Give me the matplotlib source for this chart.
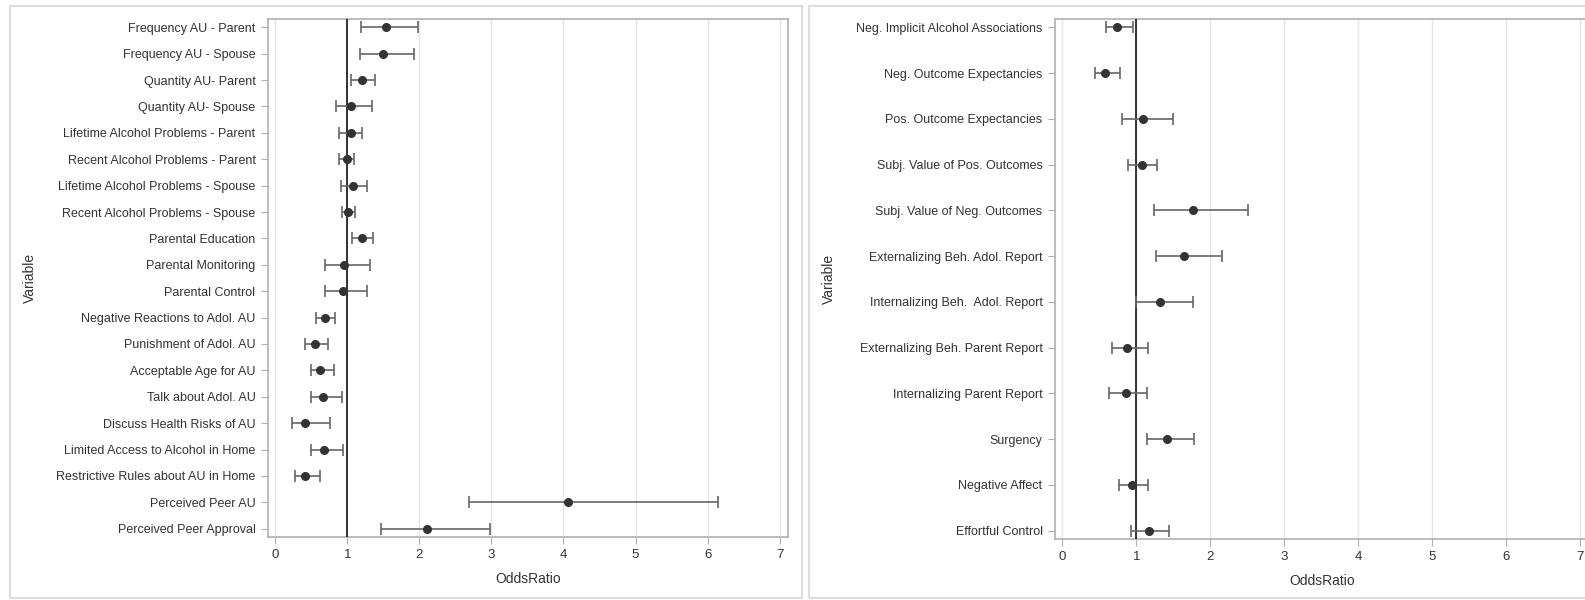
import matplotlib.pyplot as plt
from matplotlib.patches import Rectangle

# left panel: family / parenting / peer variables
left_vars = ['Frequency AU - Parent', 'Frequency AU - Spouse', 'Quantity AU- Parent',
             'Quantity AU- Spouse', 'Lifetime Alcohol Problems - Parent',
             'Recent Alcohol Problems - Parent', 'Lifetime Alcohol Problems - Spouse',
             'Recent Alcohol Problems - Spouse', 'Parental Education', 'Parental Monitoring',
             'Parental Control', 'Negative Reactions to Adol. AU', 'Punishment of Adol. AU',
             'Acceptable Age for AU', 'Talk about Adol. AU', 'Discuss Health Risks of AU',
             'Limited Access to Alcohol in Home', 'Restrictive Rules about AU in Home',
             'Perceived Peer AU', 'Perceived Peer Approval']
left_or = [1.54, 1.49, 1.20, 1.05, 1.05, 1.00, 1.08, 1.01, 1.20, 0.96,
           0.94, 0.69, 0.55, 0.62, 0.67, 0.42, 0.68, 0.42, 4.06, 2.10]
left_lo = [1.19, 1.17, 1.05, 0.84, 0.89, 0.89, 0.91, 0.92, 1.06, 0.69,
           0.69, 0.57, 0.41, 0.50, 0.50, 0.23, 0.50, 0.27, 2.69, 1.47]
left_hi = [1.98, 1.92, 1.39, 1.35, 1.21, 1.10, 1.28, 1.11, 1.36, 1.32,
           1.28, 0.83, 0.73, 0.82, 0.92, 0.76, 0.94, 0.62, 6.14, 2.98]

# right panel: individual variables
right_vars = ['Neg. Implicit Alcohol Associations', 'Neg. Outcome Expectancies',
              'Pos. Outcome Expectancies', 'Subj. Value of Pos. Outcomes',
              'Subj. Value of Neg. Outcomes', 'Externalizing Beh. Adol. Report',
              'Internalizing Beh.  Adol. Report', 'Externalizing Beh. Parent Report',
              'Internalizing Parent Report', 'Surgency', 'Negative Affect', 'Effortful Control']
right_or = [0.74, 0.58, 1.09, 1.07, 1.76, 1.65, 1.32, 0.87, 0.86, 1.42, 0.94, 1.17]
right_lo = [0.59, 0.44, 0.80, 0.89, 1.24, 1.27, 1.00, 0.67, 0.63, 1.15, 0.76, 0.93]
right_hi = [0.95, 0.78, 1.49, 1.28, 2.51, 2.16, 1.76, 1.16, 1.15, 1.78, 1.16, 1.44]

xticks = [0, 1, 2, 3, 4, 5, 6, 7]

plt.rcParams['font.family'] = ['Liberation Sans', 'DejaVu Sans']

fig = plt.figure(figsize=(15.85, 6.0), dpi=100)

# panel frames
W, H = 1585, 600
for x0, x1 in [(10, 802), (809, 1600)]:
    fig.patches.append(Rectangle((x0 / W, 1 - 598 / H), (x1 - x0) / W, (598 - 6) / H,
                                 transform=fig.transFigure, fill=False,
                                 edgecolor='#dddddd', linewidth=1.5))

ax1 = fig.add_axes([268 / W, 1 - 536.7 / H, (788.3 - 268) / W, (536.7 - 19.3) / H])
ax2 = fig.add_axes([1055 / W, 1 - 538.7 / H, (1589 - 1055) / W, (538.7 - 19.3) / H])


def forest(ax, names, orr, lo, hi, pad):
    y = list(range(len(names)))
    err = [[o - l for o, l in zip(orr, lo)], [h - o for o, h in zip(orr, hi)]]
    ax.axvline(1, color='black', linewidth=1.1, zorder=3)
    ax.errorbar(orr, y, xerr=err, fmt='o', color='#333333', ecolor='#666666',
                elinewidth=1.2, capsize=4.5, capthick=1.2, markersize=5.5, zorder=4)
    ax.set_yticks(y)
    ax.set_yticklabels(names, fontsize=9, color='#333333')
    ax.set_ylim(len(names) - 1 + pad, -pad)
    ax.set_xlim(-0.1, 7.12)
    ax.set_xticks(xticks)
    ax.set_xticklabels([str(t) for t in xticks], fontsize=9.5, color='#333333')
    ax.grid(axis='x', color='#e6e6e6', linewidth=1)
    ax.set_axisbelow(True)
    for s in ax.spines.values():
        s.set_color('#b0b0b0')
        s.set_linewidth(1.2)
    ax.tick_params(axis='both', length=5, color='#b0b0b0', pad=4)
    ax.set_xlabel('OddsRatio', fontsize=10, color='#333333', labelpad=8)
    ax.set_ylabel('Variable', fontsize=10, color='#333333')


forest(ax1, left_vars, left_or, left_lo, left_hi, 0.3)
forest(ax2, right_vars, right_or, right_lo, right_hi, 0.175)
ax1.yaxis.set_label_coords((37 - 268) / 520.3, 0.5)
ax2.yaxis.set_label_coords((836 - 1055) / 534, 0.5)

fig.savefig('out.png', dpi=100)
